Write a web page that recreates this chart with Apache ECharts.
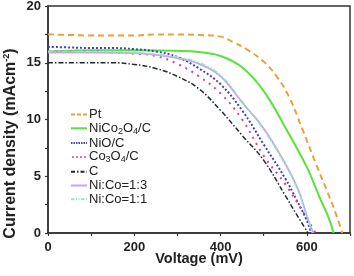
<!DOCTYPE html>
<html>
<head>
<meta charset="utf-8">
<script src="https://cdn.jsdelivr.net/npm/echarts@6/dist/echarts.min.js"></script>
<style>
  html, body { margin: 0; padding: 0; background: #fff; }
  #chart { width: 354px; height: 276px; }
</style>
</head>
<body>
<div id="chart"></div>
<script>
// J-V curves: [voltage mV, current density mA/cm2]
var ptData = [[0,17.5],[50,17.45],[100,17.4],[150,17.4],[200,17.4],[250,17.5],[300,17.5],[350,17.45],[400,17.3],[430,16.8],[460,16.2],[500,15.1],[530,13.8],[560,11.9],[590,9.1],[620,6.2],[650,3.4],[670,1.4],[682,0]];
var nicoData = [[0,16.0],[50,16.05],[100,16.1],[200,16.1],[300,16.05],[350,15.95],[400,15.6],[450,14.6],[500,12.5],[550,9.3],[600,5.8],[630,3.1],[650,1.4],[662,0]];
var nioData = [[0,16.4],[50,16.35],[100,16.3],[150,16.3],[200,16.2],[250,16.0],[300,15.5],[350,14.5],[400,13.1],[450,10.8],[500,7.8],[550,4.8],[575,3.0],[600,1.1],[610,0]];
var coData = [[0,16.0],[100,16.0],[150,15.9],[200,15.8],[250,15.6],[300,14.9],[350,13.8],[400,12.3],[450,10.0],[500,6.8],[550,4.3],[600,1.3],[620,0]];
var cData = [[0,15.0],[100,15.0],[150,15.0],[200,14.85],[250,14.5],[300,13.8],[350,12.7],[400,10.8],[450,8.6],[500,6.4],[550,3.3],[575,1.7],[603,0]];
var r13Data = [[0,15.9],[100,15.9],[200,15.85],[250,15.7],[300,15.4],[350,14.9],[400,13.8],[450,11.5],[500,9.2],[550,6.1],[580,3.8],[600,1.5],[615,0]];
var r11Data = [[0,16.0],[100,16.0],[200,15.9],[250,15.75],[300,15.5],[350,15.0],[400,13.9],[450,11.6],[500,9.1],[550,6.0],[580,3.7],[600,1.6],[612,0]];

var names = ['Pt', 'NiCo2O4/C', 'NiO/C', 'Co3O4/C', 'C', 'Ni:Co=1:3', 'Ni:Co=1:1'];
var xTicks = [0, 200, 400, 600];
var yTicks = [0, 5, 10, 15, 20];

var labels = {
  'NiCo2O4/C': '{n|NiCo}{s|2}{n|O}{s|4}{n|/C}',
  'Co3O4/C': '{n|Co}{s|3}{n|O}{s|4}{n|/C}'
};

// legend icon: a 16x2 strip cut into dashes
function dashIcon(pat) {
  var d = '', x = 0, i = 0;
  while (x < 16) {
    var w = Math.min(pat[i % pat.length], 16 - x);
    if (i % 2 === 0) d += 'M' + x + ',0H' + (x + w) + 'V2H' + x + 'Z';
    x += pat[i % pat.length];
    i++;
  }
  return 'path://' + d;
}

var mychart = echarts.init(document.getElementById('chart'));

function mk(name, data, color, type, width) {
  return {
    name: name,
    type: 'line',
    data: data,
    smooth: 0.4,
    symbol: 'none',
    lineStyle: { color: color, type: type, width: width },
    itemStyle: { color: color },
    z: 3
  };
}

var styles = [
  ['#EBA23A', [6, 4], 2],
  ['#55E33C', 'solid', 2],
  ['#3A44C8', [2, 2], 2],
  ['#D2449C', [2, 5], 2],
  ['#1E2A30', [5, 2, 1.5, 2], 1.5],
  ['#C8A2F0', 'solid', 1.8],
  ['#8EE8C4', [5, 2, 1.5, 2, 1.5, 2], 1.5]
];
var legendPats = [[4, 2], [16, 0], [1.5, 1], [1.5, 2.5], [4, 2, 1.5, 2], [16, 0], [3.5, 1.5, 1, 1.5, 1, 1.5]];
var dataSets = [ptData, nicoData, nioData, coData, cData, r13Data, r11Data];

var axisCol = '#333';
var option = {
  animation: false,
  grid: {
    left: 48, top: 6, right: 4, bottom: 43,
    outerBoundsMode: 'none',
    containLabel: false,
    show: true, borderColor: axisCol, borderWidth: 1.5
  },
  legend: {
    orient: 'vertical',
    left: 71,
    top: 108,
    padding: 0,
    itemWidth: 16,
    itemHeight: 2,
    itemGap: 0.8,
    data: names.map(function (n, i) { return { name: n, icon: dashIcon(legendPats[i]) }; }),
    itemStyle: { borderWidth: 0 },
    formatter: function (n) { return labels[n] || '{n|' + n + '}'; },
    textStyle: {
      fontFamily: 'Liberation Sans',
      color: '#222',
      padding: [0, 0, 0, -3],
      rich: {
        n: { fontSize: 13, lineHeight: 15, color: '#222', fontFamily: 'Liberation Sans' },
        s: { fontSize: 9, lineHeight: 8, verticalAlign: 'bottom', color: '#222', fontFamily: 'Liberation Sans' }
      }
    }
  },
  xAxis: {
    type: 'value',
    min: 0,
    max: 700,
    interval: 100,
    name: 'Voltage (mV)',
    nameLocation: 'middle',
    nameGap: 18,
    nameMoveOverlap: false,
    nameTextStyle: { fontFamily: 'Liberation Sans', fontWeight: 'bold', fontSize: 14.5, color: '#222' },
    axisLine: { lineStyle: { color: axisCol, width: 1.5 } },
    axisTick: { length: 3, lineStyle: { color: axisCol, width: 1.2 } },
    splitLine: { show: false },
    axisLabel: {
      margin: 8,
      fontFamily: 'Liberation Sans', fontWeight: 'bold', fontSize: 13, color: '#222',
      formatter: function (v) { return xTicks.indexOf(v) >= 0 ? String(v) : ''; }
    }
  },
  yAxis: {
    type: 'value',
    min: 0,
    max: 20,
    interval: 2.5,
    name: '{t|Current density (mAcm}{p|-2}{t|)}',
    nameLocation: 'middle',
    nameGap: 28,
    nameMoveOverlap: false,
    nameTextStyle: {
      padding: [0, 48, 0, 0],
      rich: {
        t: { fontFamily: 'Liberation Sans', fontWeight: 'bold', fontSize: 16, lineHeight: 18, color: '#222' },
        p: { fontFamily: 'Liberation Sans', fontWeight: 'bold', fontSize: 9, lineHeight: 9, verticalAlign: 'top', color: '#222' }
      }
    },
    axisLine: { show: true, lineStyle: { color: axisCol, width: 1.5 } },
    axisTick: { show: true, length: 3, lineStyle: { color: axisCol, width: 1.2 } },
    splitLine: { show: false },
    axisLabel: {
      margin: 7,
      fontFamily: 'Liberation Sans', fontWeight: 'bold', fontSize: 13, color: '#222',
      formatter: function (v) { return yTicks.indexOf(v) >= 0 ? String(v) : ''; }
    }
  },
  series: names.map(function (n, i) {
    return mk(n, dataSets[i], styles[i][0], styles[i][1], styles[i][2]);
  })
};
mychart.setOption(option, true);
window.addEventListener('resize', function () {
  mychart.resize();
});
</script>
</body>
</html>
